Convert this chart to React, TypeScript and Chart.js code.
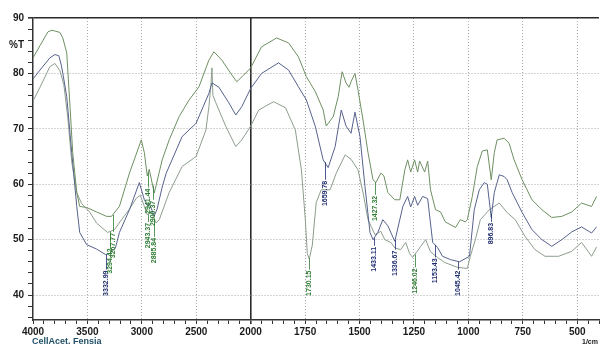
import React, { useEffect, useRef } from 'react';
import { Chart, registerables } from 'chart.js';
Chart.register(...registerables);

// ---- data (wavenumber 1/cm, %T) ----
const sampleA: [number, number][] = [
  [4000, 82.8], [3936, 85], [3863, 87.5], [3826, 87.8], [3790, 87.6], [3753, 87.4], [3726, 86.4], [3690, 83.7],
  [3662, 74.7], [3635, 65.7], [3598, 58.5], [3571, 56], [3507, 55.8], [3416, 55], [3324, 54.2], [3279, 54.2],
  [3206, 56], [3114, 62], [3005, 68], [2977, 65.7], [2950, 61.5], [2932, 62.7], [2886, 58.4], [2813, 64.4],
  [2749, 68], [2658, 72.2], [2566, 75.2], [2475, 77.6], [2384, 82.4], [2338, 83.9], [2265, 82.4], [2183, 80],
  [2128, 78.5], [2064, 79.7], [2000, 81], [1950, 84.8], [1881, 86.4], [1826, 85.5], [1781, 83], [1744, 79.4],
  [1703, 76.7], [1667, 73.4], [1653, 70.5], [1621, 72.2], [1598, 75.8], [1580, 80.3], [1562, 78.3], [1548, 77.5],
  [1539, 78.5], [1521, 80], [1507, 77], [1484, 71.6], [1461, 65.7], [1438, 60.8], [1425, 60.3], [1402, 62],
  [1388, 61.5], [1370, 58.5], [1338, 57.2], [1315, 57.2], [1292, 62.6], [1279, 64.4], [1265, 62.2], [1247, 64.4],
  [1233, 62.2], [1224, 64.2], [1201, 62.2], [1187, 64.2], [1174, 59], [1151, 55.4], [1128, 55], [1106, 53.2],
  [1059, 52.2], [1037, 53.6], [1014, 53.2], [1005, 53.6], [982, 57.8], [959, 63.2], [936, 66], [913, 66.2],
  [895, 60.8], [881, 65.7], [868, 68], [836, 68.3], [813, 67.4], [790, 64.4], [753, 60.8], [708, 57.2],
  [662, 55.4], [617, 54], [571, 54.2], [525, 55], [480, 56.6], [434, 56], [411, 57.8],
];

const sampleB: [number, number][] = [
  [4000, 79], [3936, 80.6], [3845, 82.8], [3799, 83.4], [3763, 83.2], [3740, 81.5], [3726, 80], [3690, 75.8],
  [3644, 65.7], [3598, 56], [3571, 51.3], [3507, 49.1], [3416, 48.3], [3333, 47.3], [3294, 47.5], [3243, 48.5],
  [3206, 51.3], [3114, 55.4], [3023, 60.3], [2977, 57.2], [2941, 56], [2932, 56.5], [2886, 54.3], [2860, 55.5],
  [2813, 59.5], [2776, 62], [2630, 68.6], [2502, 71], [2384, 76.4], [2356, 78.3], [2292, 77.5], [2201, 74.7],
  [2137, 72.5], [2082, 74], [2000, 77.3], [1950, 80], [1872, 81.9], [1826, 80.6], [1781, 77.6], [1744, 75.2],
  [1703, 70.4], [1667, 64.4], [1644, 63], [1612, 66.8], [1584, 73.4], [1562, 70.5], [1539, 69.2], [1521, 73],
  [1498, 68.6], [1475, 59.6], [1452, 51.3], [1438, 50], [1416, 51.3], [1393, 53.6], [1370, 52.5], [1338, 49.7],
  [1301, 56], [1279, 57.8], [1265, 55.9], [1247, 57.8], [1233, 56.2], [1210, 57.8], [1187, 57.4], [1164, 49.5],
  [1142, 48.6], [1119, 47], [1082, 46.4], [1041, 46], [995, 47], [973, 55.4], [950, 59], [927, 60.3],
  [913, 60], [895, 54], [881, 58.5], [858, 61.7], [836, 61.4], [822, 60.8], [799, 58.5], [753, 54.9],
  [708, 51.8], [662, 50], [617, 48.8], [571, 50], [525, 51.4], [480, 52.3], [434, 51.2], [411, 52.3],
];

const sampleC: [number, number][] = [
  [4000, 75], [3936, 77.5], [3845, 81.2], [3799, 81.8], [3753, 80.5], [3717, 78], [3680, 72], [3644, 64],
  [3598, 58.5], [3553, 56.5], [3480, 55], [3416, 53], [3315, 51.3], [3251, 51.8], [3187, 53.6], [3114, 55.5],
  [3050, 57.5], [3014, 58], [2977, 56], [2950, 54.5], [2913, 55], [2868, 53], [2840, 53.6], [2749, 58.5],
  [2630, 63.2], [2502, 65], [2411, 69.8], [2384, 74], [2365, 78], [2356, 81], [2347, 76], [2320, 74.7],
  [2228, 70.4], [2137, 66.8], [2082, 68], [2000, 70.5], [1963, 73.4], [1895, 74.9], [1840, 73.8], [1795, 69.8],
  [1767, 62.6], [1749, 53.6], [1740, 47.5], [1731, 46.5], [1717, 49], [1699, 56.7], [1676, 59], [1635, 59],
  [1607, 62], [1566, 65.3], [1539, 64.5], [1507, 62.6], [1484, 58.5], [1461, 53.6], [1429, 50.9], [1402, 51.5],
  [1384, 50], [1356, 49.5], [1338, 48.5], [1311, 48.2], [1288, 49.5], [1270, 47.5], [1256, 46.8], [1233, 48],
  [1219, 48.8], [1196, 50], [1174, 47.8], [1142, 46.8], [1110, 45.9], [1050, 45], [1005, 44.8], [991, 47],
  [968, 50], [945, 53.6], [904, 55.4], [858, 56.6], [822, 54.9], [785, 53.6], [740, 50.6], [694, 48.2],
  [648, 47], [585, 47], [525, 47.9], [480, 49.5], [434, 47], [411, 48.7],
];

const xTickLabels = ['4000', '3500', '3000', '2500', '2000', '1750', '1500', '1250', '1000', '750', '500'];
const yTickLabels = ['40', '50', '60', '70', '80', '90'];
const yUnitLabel = '%T';
const xUnitLabel = '1/cm';
const sampleTitle = 'CellAcet. Fensia';

const peakLabels = ['3332.99', '3294.42', '3267.77', '2943.37', '2941.44', '2900.37', '2885.84', '1730.15',
  '1659.78', '1433.11', '1427.32', '1336.67', '1246.02', '1153.43', '1045.42', '896.83'];
const peakSeries = [1, 2, 0, 2, 0, 0, 2, 2, 1, 1, 0, 1, 2, 1, 1, 1];

// ---- layout / style (not data) ----
const peakLabelTop = [44.6, 48.6, 51.4, 53.2, 59.4, 57.2, 50.5, 44.6, 60.8, 48.9, 58.1, 48.2, 45, 46.8, 44.6, 53.2];
const peakInk = ['b', 'g', 'g', 'g', 'g', 'g', 'g', 'g', 'b', 'b', 'g', 'b', 'g', 'b', 'b', 'b'];
const INK: Record<string, string> = { g: '#2f7d34', b: '#1f2d6e' };
const LINE_COLORS = ['#6f8f62', '#56628c', '#8d9d8d'];

const allSeries = [sampleA, sampleB, sampleC];

// split-scale x axis: 4000-2000 compressed 2:1 relative to 2000-400
const toU = (w: number) => (w >= 2000 ? (4000 - w) / 2 : 1000 + (2000 - w));

const interp = (s: [number, number][], w: number) => {
  for (let i = 0; i < s.length - 1; i++) {
    const [w1, t1] = s[i];
    const [w2, t2] = s[i + 1];
    if (w <= w1 && w >= w2) {
      const f = (w1 - w) / (w1 - w2 || 1);
      return t1 + (t2 - t1) * f;
    }
  }
  return s[s.length - 1][1];
};

const FONT = '"Liberation Sans", Arial, sans-serif';

const peakPlugin = {
  id: 'peakLabels',
  afterDatasetsDraw(chart: any) {
    const { ctx, scales } = chart;
    const xs = scales.x;
    const ys = scales.y;
    peakLabels.forEach((txt, i) => {
      const w = parseFloat(txt);
      const t = interp(allSeries[peakSeries[i]], w);
      const px = Math.round(xs.getPixelForValue(toU(w))) + 0.5;
      const py = ys.getPixelForValue(t);
      const ly = ys.getPixelForValue(peakLabelTop[i]);
      const col = INK[peakInk[i]];
      ctx.save();
      ctx.strokeStyle = col;
      ctx.lineWidth = 0.8;
      ctx.beginPath();
      ctx.moveTo(px, py);
      ctx.lineTo(px, ly);
      ctx.stroke();
      ctx.translate(px, ly + 1);
      ctx.rotate(-Math.PI / 2);
      ctx.font = `bold 7px ${FONT}`;
      ctx.fillStyle = col;
      ctx.textAlign = 'right';
      ctx.textBaseline = 'middle';
      ctx.fillText(txt, 0, 0);
      ctx.restore();
    });
  },
  afterDraw(chart: any) {
    const { ctx } = chart;
    ctx.save();
    ctx.font = `bold 9px ${FONT}`;
    ctx.fillStyle = '#1f4f66';
    ctx.textAlign = 'left';
    ctx.textBaseline = 'top';
    ctx.fillText(sampleTitle, 32, 337);
    ctx.font = `bold 7px ${FONT}`;
    ctx.fillStyle = '#222';
    ctx.fillText(xUnitLabel, 582, 339);
    ctx.restore();
  },
};

export default function App() {
  const ref = useRef<HTMLCanvasElement | null>(null);
  useEffect(() => {
    document.body.style.margin = '0';
    if (!ref.current) return;
    const majorU = xTickLabels.map((l) => toU(parseFloat(l)));
    const yMajor = yTickLabels.map((l) => parseFloat(l));
    const chart = new Chart(ref.current, {
      type: 'line',
      data: {
        datasets: allSeries.map((s, i) => ({
          label: `S${i + 1}`,
          data: s.map(([w, t]) => ({ x: toU(w), y: t })),
          borderColor: LINE_COLORS[i],
          borderWidth: 1,
          pointRadius: 0,
          tension: 0,
          fill: false,
        })),
      },
      options: {
        animation: false,
        responsive: false,
        maintainAspectRatio: false,
        events: [],
        layout: { padding: { top: 18, left: 0, right: 0, bottom: 0 } },
        plugins: { legend: { display: false }, tooltip: { enabled: false } },
        scales: {
          x: {
            type: 'linear',
            min: 0,
            max: toU(400),
            afterBuildTicks: (scale: any) => {
              const t = [];
              for (let u = 0; u <= toU(400); u += 50) t.push({ value: u });
              scale.ticks = t;
            },
            afterFit: (scale: any) => { scale.height = 25; },
            ticks: {
              autoSkip: false,
              maxRotation: 0,
              padding: 2,
              color: '#1a1a1a',
              font: { family: FONT, size: 10, weight: 'bold' },
              callback: (v: any) => {
                const idx = majorU.indexOf(Number(v));
                return idx >= 0 ? xTickLabels[idx] : '';
              },
            },
            grid: {
              color: (c: any) => {
                const v = c.tick ? c.tick.value : -1;
                if (v === 1000) return '#2a2a2a';
                return majorU.includes(v) && v !== 0 ? '#a8a8a8' : 'rgba(0,0,0,0)';
              },
              lineWidth: (c: any) => (c.tick && c.tick.value === 1000 ? 1.6 : 1),
              tickColor: '#333',
              tickLength: 4,
            },
            border: {
              display: true,
              color: '#333',
              width: 1.5,
              dash: (c: any) => (c.tick && c.tick.value === 1000 ? [] : [1, 2]),
            },
          },
          y: {
            type: 'linear',
            min: 35.5,
            max: 90,
            afterBuildTicks: (scale: any) => {
              const t = [];
              for (let v = 36; v <= 90; v += 2) t.push(v);
              t.push(85);
              t.sort((a, b) => a - b);
              scale.ticks = t.map((v) => ({ value: v }));
            },
            afterFit: (scale: any) => { scale.width = 33; },
            ticks: {
              autoSkip: false,
              padding: 4,
              color: '#1a1a1a',
              font: { family: FONT, size: 10, weight: 'bold' },
              callback: (v: any) => {
                const n = Number(v);
                if (n === 85) return yUnitLabel;
                const idx = yMajor.indexOf(n);
                return idx >= 0 ? yTickLabels[idx] : '';
              },
            },
            grid: {
              color: (c: any) => {
                const v = c.tick ? c.tick.value : -1;
                if (v === 90) return '#2a2a2a';
                return yMajor.includes(v) ? '#a8a8a8' : 'rgba(0,0,0,0)';
              },
              lineWidth: (c: any) => (c.tick && c.tick.value === 90 ? 1.6 : 1),
              tickColor: (c: any) => (c.tick && c.tick.value === 85 ? 'rgba(0,0,0,0)' : '#333'),
              tickLength: 5,
            },
            border: {
              display: true,
              color: '#333',
              width: 1.5,
              dash: (c: any) => (c.tick && c.tick.value === 90 ? [] : [1, 2]),
            },
          },
        },
      },
      plugins: [peakPlugin],
    } as any);
    return () => chart.destroy();
  }, []);
  return (
    <div style={{ width: 601, height: 345, background: '#fff' }}>
      <canvas ref={ref} width={601} height={345} style={{ display: 'block' }} />
    </div>
  );
}
